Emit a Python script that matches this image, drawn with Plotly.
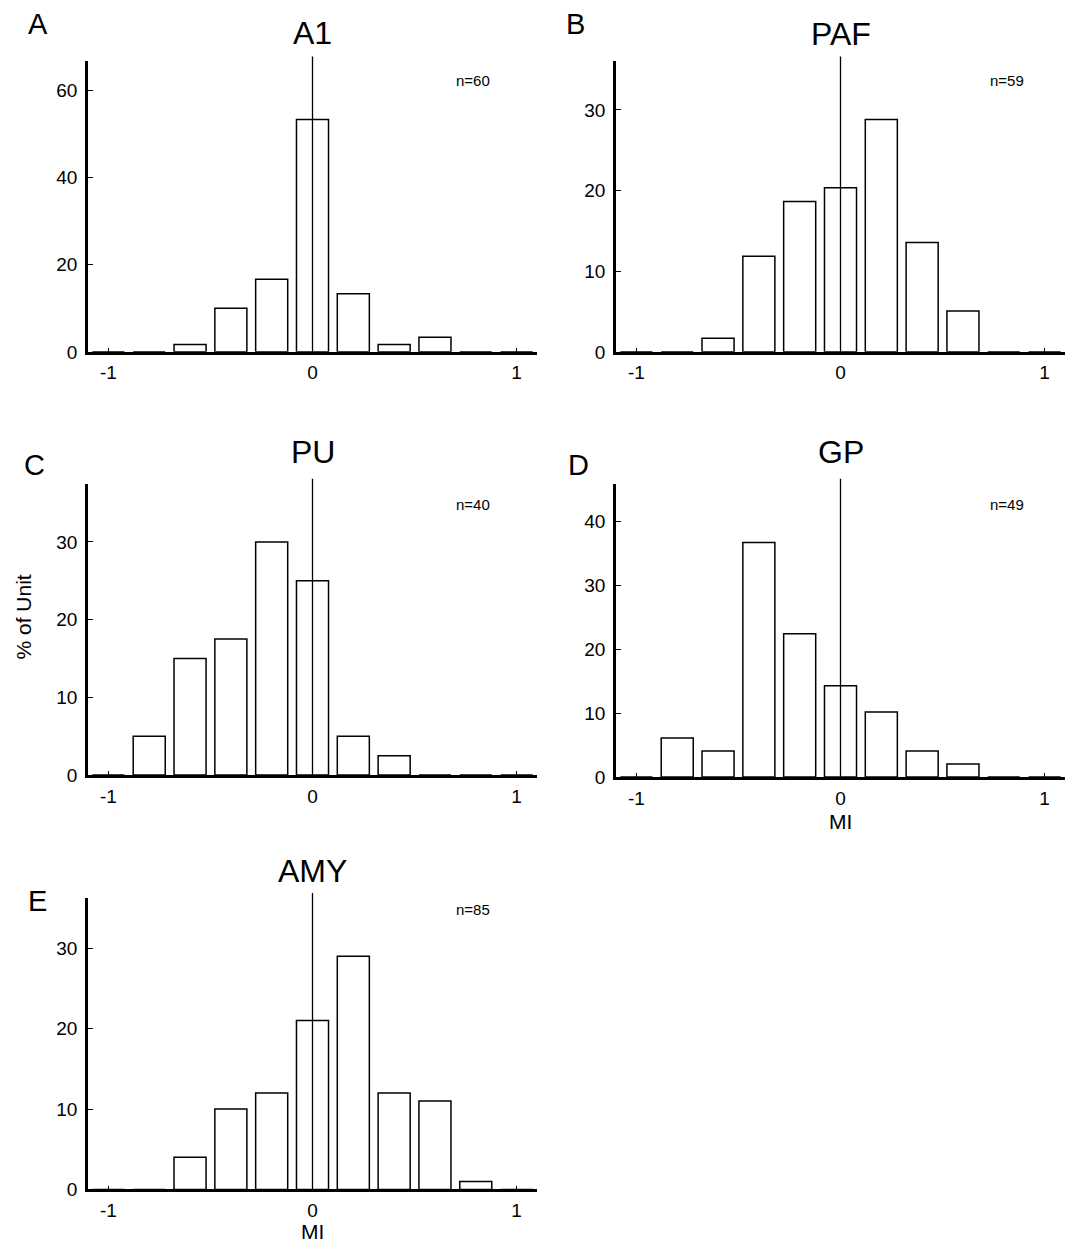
import plotly.graph_objects as go

W, H = 1077, 1249

# ---- data (percent of units per MI bin, bin centres) ----
bin_centers = [-1.0, -0.8, -0.6, -0.4, -0.2, 0.0, 0.2, 0.4, 0.6, 0.8, 1.0]
a1_pct  = [0, 0, 1.67, 10.0, 16.67, 53.33, 13.33, 1.67, 3.33, 0, 0]
paf_pct = [0, 0, 1.69, 11.86, 18.64, 20.34, 28.81, 13.56, 5.08, 0, 0]
pu_pct  = [0, 5.0, 15.0, 17.5, 30.0, 25.0, 5.0, 2.5, 0, 0, 0]
gp_pct  = [0, 6.12, 4.08, 36.73, 22.45, 14.29, 10.20, 4.08, 2.04, 0, 0]
amy_pct = [0, 0, 4, 10, 12, 21, 29, 12, 11, 1, 0]

panel_titles = ["A1", "PAF", "PU", "GP", "AMY"]
panel_letters = ["A", "B", "C", "D", "E"]
n_labels = ["n=60", "n=59", "n=40", "n=49", "n=85"]
y_dticks = [20, 10, 10, 10, 10]
x_tickvals = [-1, 0, 1]
x_ticktext = ["-1", "0", "1"]
series = [a1_pct, paf_pct, pu_pct, gp_pct, amy_pct]

FONT = "Liberation Sans, Arial, sans-serif"

# ---- layout geometry (pixels) ----
boxes = [
    (88, 537, 62, 355),
    (616, 1065, 62, 355),
    (88, 537, 488, 782),
    (616, 1065, 488, 784),
    (88, 537, 906, 1200),
]
letter_pos = [(38, 24), (575, 24), (34, 469), (578, 469), (37, 909)]
title_pos_y = [33, 34, 456, 456, 879]
n_pos = [(473, 81), (1007, 81), (473, 509), (1007, 509), (473, 918)]


def px(x):
    return x / W


def py(y):
    return 1 - y / H


fig = go.Figure()
layout = dict(
    width=W, height=H,
    margin=dict(l=0, r=0, t=0, b=0),
    paper_bgcolor="white", plot_bgcolor="white",
    showlegend=False,
    font=dict(family=FONT, color="black"),
)
annotations = []
shapes = []

for i, vals in enumerate(series):
    k = "" if i == 0 else str(i + 1)
    xa, ya = "x" + k, "y" + k
    l, r, t, b = boxes[i]
    fig.add_trace(go.Bar(
        x=bin_centers, y=vals, width=0.157,
        marker=dict(color="white", line=dict(color="black", width=1.5)),
        xaxis=xa, yaxis=ya, hoverinfo="skip",
    ))
    ymax = max(vals) * 1.25
    layout["xaxis" + k] = dict(
        domain=[px(l), px(r)], anchor=ya, range=[-1.1, 1.1],
        showgrid=False, zeroline=False, showline=True, linecolor="black", linewidth=2.5,
        ticks="inside", ticklen=4, tickwidth=1, tickcolor="black",
        tickvals=x_tickvals, ticktext=x_ticktext,
        tickfont=dict(size=19, family=FONT, color="black"),
        ticklabelstandoff=2,
    )
    layout["yaxis" + k] = dict(
        domain=[py(b), py(t)], anchor=xa, range=[0, ymax],
        showgrid=False, zeroline=False, showline=True, linecolor="black", linewidth=2.5,
        ticks="inside", ticklen=5, tickwidth=1, tickcolor="black",
        dtick=y_dticks[i], tick0=0,
        tickfont=dict(size=19, family=FONT, color="black"),
        ticklabelstandoff=4,
    )
    shapes.append(dict(
        type="line", xref=xa, x0=0, x1=0, yref=ya + " domain", y0=0.005, y1=1.017,
        line=dict(color="black", width=1.3), layer="above",
    ))
    annotations.append(dict(
        text=panel_titles[i], xref=xa, x=0, yref="paper", y=py(title_pos_y[i]),
        xanchor="center", yanchor="middle", showarrow=False,
        font=dict(size=32, family=FONT, color="black"),
    ))
    lx, ly = letter_pos[i]
    annotations.append(dict(
        text=panel_letters[i], xref="paper", x=px(lx), yref="paper", y=py(ly),
        xanchor="center", yanchor="middle", showarrow=False,
        font=dict(size=29, family=FONT, color="black"),
    ))
    nx, ny = n_pos[i]
    annotations.append(dict(
        text=n_labels[i], xref="paper", x=px(nx), yref="paper", y=py(ny),
        xanchor="center", yanchor="middle", showarrow=False,
        font=dict(size=15, family=FONT, color="black"),
    ))

annotations.append(dict(
    text="% of Unit", xref="paper", x=px(24), yref="paper", y=py(623),
    xanchor="center", yanchor="middle", textangle=-90, showarrow=False,
    font=dict(size=21, family=FONT, color="black"),
))
annotations.append(dict(
    text="MI", xref="x4", x=0, yref="paper", y=py(815),
    xanchor="center", yanchor="top", showarrow=False,
    font=dict(size=21, family=FONT, color="black"),
))
annotations.append(dict(
    text="MI", xref="x5", x=0, yref="paper", y=py(1256),
    xanchor="center", yanchor="bottom", showarrow=False,
    font=dict(size=21, family=FONT, color="black"),
))

layout["annotations"] = annotations
layout["shapes"] = shapes
fig.update_layout(**layout)
fig.write_html("out.html")
